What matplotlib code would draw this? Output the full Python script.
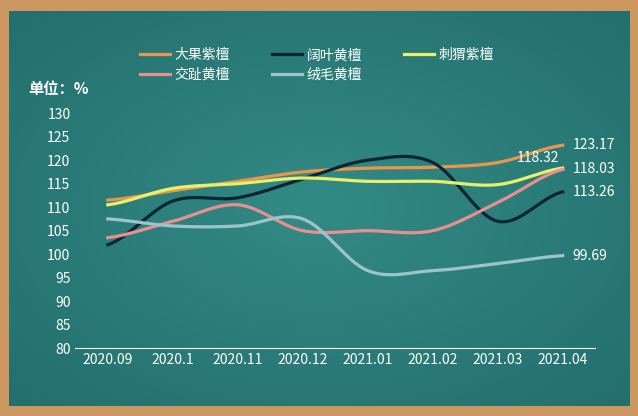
import matplotlib
matplotlib.use("Agg")
import matplotlib.pyplot as plt
import numpy as np

plt.rcParams['font.family'] = ['Noto Sans CJK SC', 'DejaVu Sans']

categories = ["2020.09", "2020.1", "2020.11", "2020.12", "2021.01", "2021.02", "2021.03", "2021.04"]
s_dagu = [111.5, 113.5, 115.5, 117.5, 118.3, 118.5, 119.5, 123.17]
s_kuoye = [102.0, 111.3, 112.0, 116.0, 120.0, 119.5, 107.0, 113.26]
s_ciwei = [110.5, 114.0, 115.0, 116.2, 115.5, 115.5, 114.8, 118.32]
s_jiaozhi = [103.5, 107.0, 110.5, 105.0, 105.0, 105.0, 111.0, 118.03]
s_rongmao = [107.5, 106.0, 106.0, 107.5, 96.5, 96.5, 98.0, 99.69]

series = [("大果紫檀", s_dagu, "#E8964E"), ("阔叶黄檀", s_kuoye, "#0B2436"),
          ("刺猬紫檀", s_ciwei, "#E6F06A"), ("交趾黄檀", s_jiaozhi, "#E89090"),
          ("绒毛黄檀", s_rongmao, "#9DC3CC")]

def smooth(y, n=20):
    y = np.asarray(y, float); x = np.arange(len(y))
    p = np.concatenate([[y[0]], y, [y[-1]]])
    xs, ys = [], []
    for i in range(len(y) - 1):
        p0, p1, p2, p3 = p[i], p[i+1], p[i+2], p[i+3]
        t = np.linspace(0, 1, n, endpoint=False)
        c = 0.5 * ((2*p1) + (-p0+p2)*t + (2*p0-5*p1+4*p2-p3)*t**2 + (-p0+3*p1-3*p2+p3)*t**3)
        xs.append(x[i] + t); ys.append(c)
    xs.append([x[-1]]); ys.append([y[-1]])
    return np.concatenate(xs), np.concatenate(ys)

fig = plt.figure(figsize=(6.38, 4.16), dpi=100)
fig.patch.set_facecolor("#CB9660")
bg = fig.add_axes([0.014, 0.024, 0.972, 0.95])
bg.axis("off")
grad = np.linspace(0, 1, 200)
X, Y = np.meshgrid(grad, grad)
R = np.sqrt((X-0.5)**2 + (Y-0.5)**2)
bg.imshow(R, cmap=matplotlib.colors.LinearSegmentedColormap.from_list("c", ["#338A85", "#236F6E"]),
          extent=[0, 1, 0, 1], aspect="auto")
bg.set_xlim(0, 1); bg.set_ylim(0, 1)

ax = fig.add_axes([0.118, 0.163, 0.815, 0.565])
ax.patch.set_alpha(0)
x = np.arange(len(categories))
lines = {}
for name, y, c in series:
    xs, ys = smooth(y)
    lines[name], = ax.plot(xs, ys, color=c, lw=2.3, label=name)
ax.set_xlim(-0.5, len(categories) - 0.5)
ax.set_ylim(80, 130)
ax.set_yticks(range(80, 131, 5))
ax.set_xticks(x)
ax.set_xticklabels(categories)
ax.tick_params(colors="white", labelsize=10, length=0)
for sp in ["top", "right", "left"]:
    ax.spines[sp].set_visible(False)
ax.spines["bottom"].set_color("white")
ax.text(-0.09, 1.08, "单位：%", transform=ax.transAxes, color="white", fontsize=11, fontweight="bold")

ax.text(7.15, s_dagu[-1], f"{s_dagu[-1]:.2f}", color="white", fontsize=10, va="center")
ax.text(7.15, s_jiaozhi[-1], f"{s_jiaozhi[-1]:.2f}", color="white", fontsize=10, va="center")
ax.text(7.15, s_kuoye[-1], f"{s_kuoye[-1]:.2f}", color="white", fontsize=10, va="center")
ax.text(7.15, s_rongmao[-1], f"{s_rongmao[-1]:.2f}", color="white", fontsize=10, va="center")
ax.text(6.95, s_ciwei[-1] + 2.2, f"{s_ciwei[-1]:.2f}", color="white", fontsize=10, va="center", ha="right")

order = ["大果紫檀", "交趾黄檀", "阔叶黄檀", "绒毛黄檀", "刺猬紫檀"]
ax.legend([lines[n] for n in order], order, ncol=3, loc="lower left", bbox_to_anchor=(0.1, 1.08),
          frameon=False, labelcolor="white", fontsize=10, handlelength=2.2, columnspacing=3.0,
          handletextpad=0.3, labelspacing=0.4)
fig.savefig("out.png", dpi=100, facecolor=fig.get_facecolor())
